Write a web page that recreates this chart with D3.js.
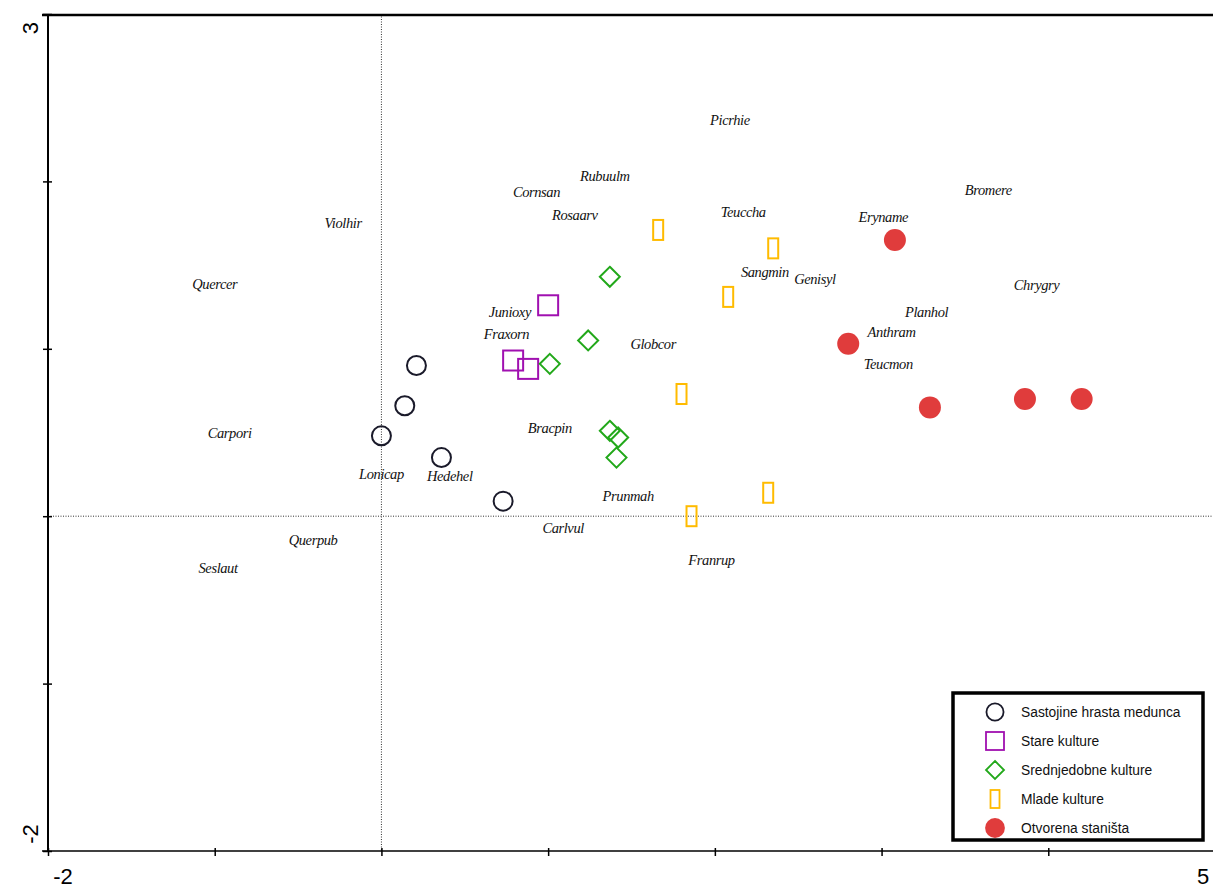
<!DOCTYPE html>
<html>
<head>
<meta charset="utf-8">
<title>Ordinacija</title>
<script src="https://d3js.org/d3.v7.min.js"></script>
<style>
body { margin:0; background:#fff; }
svg text { font-family: Arial, "Liberation Sans", sans-serif; }
.spec { font-family: "Liberation Serif", "Times New Roman", serif; font-style: italic; font-size: 14.5px; fill:#111; }
</style>
</head>
<body>
<svg id="chart" width="1213" height="888"></svg>
<script>
// plots (sites) per group
var groups = ["Sastojine hrasta medunca", "Stare kulture", "Srednjedobne kulture", "Mlade kulture", "Otvorena staništa"];
var hrast = [[0.21,0.90],[0.14,0.66],[0.0,0.48],[0.36,0.35],[0.73,0.09]];
var stare = [[1.00,1.26],[0.79,0.93],[0.88,0.88]];
var srednje = [[1.37,1.43],[1.24,1.05],[1.01,0.91],[1.37,0.51],[1.42,0.47],[1.41,0.35]];
var mlade = [[1.66,1.71],[2.35,1.60],[2.08,1.31],[1.80,0.73],[2.32,0.14],[1.86,0.00]];
var otvorena = [[3.08,1.65],[2.80,1.03],[3.29,0.65],[3.86,0.70],[4.20,0.70]];

// species scores
var species = ["Picrhie","Rubuulm","Cornsan","Rosaarv","Teuccha","Bromere","Eryname","Violhir","Quercer",
  "Sangmin","Genisyl","Chrygry","Junioxy","Planhol","Fraxorn","Anthram","Globcor","Teucmon","Carpori",
  "Bracpin","Lonicap","Hedehel","Prunmah","Carlvul","Querpub","Franrup","Seslaut"];
var specX = [2.09,1.34,0.93,1.16,2.17,3.64,3.01,-0.23,-1.00,2.30,2.60,3.93,0.77,3.27,0.75,3.06,1.63,3.04,-0.91,
  1.01,0.0,0.41,1.48,1.09,-0.41,1.98,-0.98];
var specY = [2.37,2.03,1.94,1.80,1.82,1.95,1.79,1.75,1.39,1.46,1.42,1.38,1.22,1.22,1.09,1.10,1.03,0.91,0.50,
  0.53,0.25,0.24,0.12,-0.07,-0.14,-0.26,-0.31];

var xTicks = [-2,-1,0,1,2,3,4,5];
var yTicks = [-2,-1,0,1,2,3];

var svg = d3.select("#chart");
var x = d3.scaleLinear().domain([-2,5]).range([48,1215]);
var y = d3.scaleLinear().domain([-2,3]).range([851,14]);

// zero lines
svg.append("line").attr("x1",x(0)).attr("x2",x(0)).attr("y1",y(3)).attr("y2",y(-2))
  .attr("stroke","#333").attr("stroke-width",1).attr("stroke-dasharray","1,1.5");
svg.append("line").attr("x1",x(-2)).attr("x2",1213).attr("y1",y(0)).attr("y2",y(0))
  .attr("stroke","#333").attr("stroke-width",1).attr("stroke-dasharray","1,1.5");

// axes
var gx = svg.append("g").attr("transform","translate(0,"+y(-2)+")")
  .call(d3.axisBottom(x).tickValues(xTicks).tickSize(5).tickFormat(""));
gx.select(".domain").attr("d","M42,0H1213").attr("stroke","#000").attr("stroke-width",1.5);
gx.selectAll(".tick line").attr("y1",-3).attr("y2",5).attr("stroke-width",1.5);

var gy = svg.append("g").attr("transform","translate("+x(-2)+",0)")
  .call(d3.axisLeft(y).tickValues(yTicks).tickSize(5).tickFormat(""));
gy.select(".domain").attr("d","M0,"+y(3)+"V"+y(-2)).attr("stroke","#000").attr("stroke-width",2);
gy.selectAll(".tick line").attr("x1",-5).attr("x2",4).attr("stroke-width",1.5);

// top border
svg.append("line").attr("x1",42).attr("x2",1213).attr("y1",y(3)+1).attr("y2",y(3)+1)
  .attr("stroke","#000").attr("stroke-width",2.5);

// tick labels
svg.append("text").attr("transform","translate(38,"+(y(3)+14)+") rotate(-90)")
  .attr("text-anchor","middle").attr("font-size",22).text("3");
svg.append("text").attr("transform","translate(38,"+(y(-2)-17)+") rotate(-90)")
  .attr("text-anchor","middle").attr("font-size",22).text("-2");
svg.append("text").attr("x",x(-2)+15).attr("y",884).attr("text-anchor","middle").attr("font-size",22).text("-2");
svg.append("text").attr("x",1203).attr("y",884).attr("text-anchor","middle").attr("font-size",22).text("5");

// species labels
svg.append("g").selectAll("text").data(species).join("text")
  .attr("class","spec")
  .attr("x",function(d,i){ return x(specX[i]); })
  .attr("y",function(d,i){ return y(specY[i]); })
  .attr("text-anchor","middle").attr("dy","0.35em")
  .attr("letter-spacing","-0.4")
  .text(function(d){ return d; });

// markers
function marker(g, type){
  if(type==0) g.append("circle").attr("r",9.5).attr("fill","none").attr("stroke","#1a1a2a").attr("stroke-width",2);
  if(type==1) g.append("rect").attr("x",-10).attr("y",-10).attr("width",20).attr("height",20)
    .attr("fill","none").attr("stroke","#a010b0").attr("stroke-width",2);
  if(type==2) g.append("path").attr("d","M0,-10L10,0L0,10L-10,0Z")
    .attr("fill","none").attr("stroke","#22a81a").attr("stroke-width",2);
  if(type==3) g.append("rect").attr("x",-5).attr("y",-10).attr("width",10).attr("height",20)
    .attr("fill","none").attr("stroke","#ffbb00").attr("stroke-width",2);
  if(type==4) g.append("circle").attr("r",11).attr("fill","#e03c3c");
}
[hrast, stare, srednje, mlade, otvorena].forEach(function(data, k){
  svg.append("g").selectAll("g").data(data).join("g")
    .attr("transform",function(d){ return "translate("+x(d[0])+","+y(d[1])+")"; })
    .each(function(){ marker(d3.select(this), k); });
});

// legend
var lg = svg.append("g");
lg.append("rect").attr("x",953).attr("y",693).attr("width",250).attr("height",147)
  .attr("fill","#fff").attr("stroke","#000").attr("stroke-width",3.5);
groups.forEach(function(name, i){
  var row = lg.append("g").attr("transform","translate(995,"+(712+i*29)+")");
  var m = row.append("g").attr("transform","scale(0.9)");
  marker(m, i);
  row.append("text").attr("x",26).attr("dy","0.35em").attr("font-size",13.8).attr("fill","#111").text(name);
});
</script>
</body>
</html>
